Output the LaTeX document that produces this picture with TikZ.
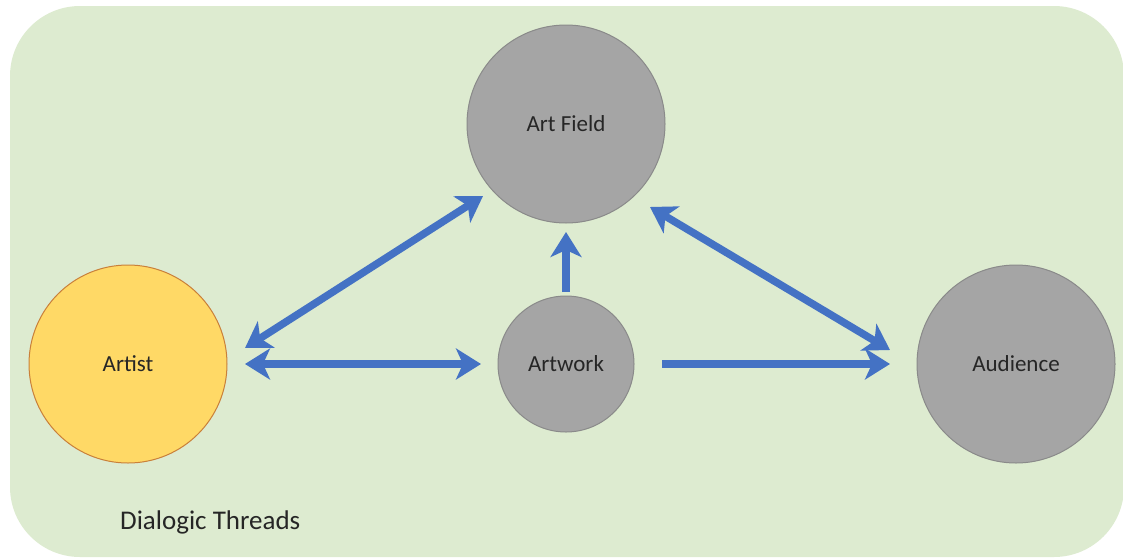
\documentclass[tikz,border=0pt]{standalone}
\usepackage{fontspec}
\setmainfont{Carlito}
\usetikzlibrary{arrows.meta}
\definecolor{panelgreen}{HTML}{DDEBD0}
\definecolor{nodegray}{HTML}{A5A5A5}
\definecolor{nodeedge}{HTML}{8A8A8A}
\definecolor{artistfill}{HTML}{FFD966}
\definecolor{artistedge}{HTML}{C9803A}
\definecolor{linkblue}{HTML}{4472C4}
\definecolor{labeltext}{HTML}{262626}
\tikzset{
  orb/.style={circle, draw=nodeedge, fill=nodegray, line width=1pt,
    inner sep=0pt, text=labeltext, font=\fontsize{23}{27}\selectfont},
  link/.style={draw=linkblue, line width=7.5pt,
    -{Stealth[length=25pt, width=31pt, inset=7pt]}},
  twoway/.style={link,
    {Stealth[length=25pt, width=31pt, inset=7pt]}-{Stealth[length=25pt, width=31pt, inset=7pt]}},
}
\begin{document}
\begin{tikzpicture}[x=1pt, y=-1pt]
  \useasboundingbox (0,0) rectangle (1123,557);
  % background panel
  \fill[panelgreen, rounded corners=70pt] (10,6) rectangle (1124,557);

  % actors
  \node[orb, minimum size=198pt] (field) at (566,124) {Art Field};
  \node[orb, fill=artistfill, draw=artistedge, minimum size=198pt] (artist) at (128,364) {Artist};
  \node[orb, minimum size=136pt] (work) at (566,364) {Artwork};
  \node[orb, minimum size=198pt] (audience) at (1016,364) {Audience};

  % connection end points
  \coordinate (a1) at (245,348);
  \coordinate (f1) at (483,196);
  \coordinate (a2) at (245,364);
  \coordinate (w2) at (481,364);
  \coordinate (w3) at (566,292);
  \coordinate (f3) at (566,232);
  \coordinate (f4) at (650,207);
  \coordinate (u4) at (890,350);
  \coordinate (w5) at (662,364);
  \coordinate (u5) at (890,364);

  % threads
  \draw[twoway] (a1) -- (f1);
  \draw[twoway] (a2) -- (w2);
  \draw[link] (w3) -- (f3);
  \draw[twoway] (f4) -- (u4);
  \draw[link] (w5) -- (u5);

  \node[text=labeltext, font=\fontsize{27}{32}\selectfont, anchor=west, inner sep=0pt] (title) at (120,522) {Dialogic Threads};
\end{tikzpicture}
\end{document}
